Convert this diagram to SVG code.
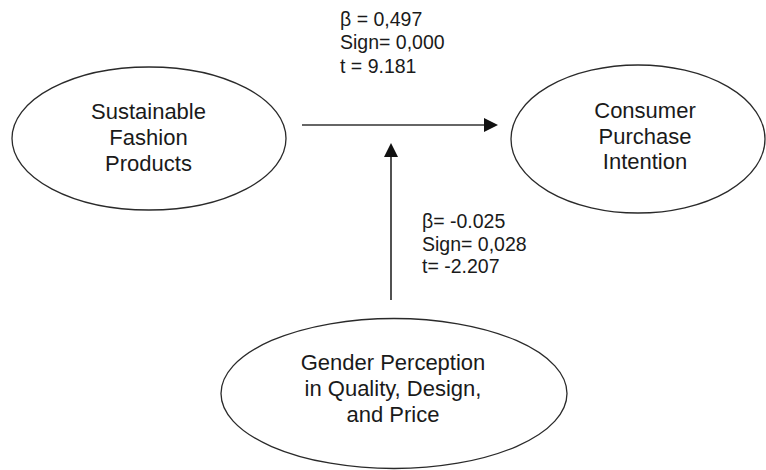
<svg xmlns="http://www.w3.org/2000/svg" width="766" height="470" viewBox="0 0 766 470">
  <defs>
    <style>
      .node ellipse { fill: #ffffff; stroke: #2a2a2a; stroke-width: 1.3; }
      .node text { font-family: "Liberation Sans", Arial, sans-serif; font-size: 22px; fill: #1a1a1a; text-anchor: middle; }
      .conn line { stroke: #333333; stroke-width: 1.7; fill: none; }
      .lbl { font-family: "Liberation Sans", Arial, sans-serif; font-size: 19.5px; fill: #1a1a1a; }
    </style>
    <marker id="arrow" markerUnits="userSpaceOnUse" markerWidth="15" markerHeight="15" refX="11" refY="7" orient="auto">
      <path d="M0,0 L14,7 L0,14 z" fill="#111111"/>
    </marker>
  </defs>
  <rect width="766" height="470" fill="#ffffff"/>

  <g id="sustainable-fashion-products" class="node">
    <ellipse cx="149" cy="138.5" rx="137" ry="71.5"/>
    <text x="148.5" y="119">Sustainable</text>
    <text x="148.5" y="145">Fashion</text>
    <text x="148.5" y="171">Products</text>
  </g>

  <g id="consumer-purchase-intention" class="node">
    <ellipse cx="638" cy="139" rx="127" ry="74"/>
    <text x="645" y="118">Consumer</text>
    <text x="645" y="143.5">Purchase</text>
    <text x="645" y="168.5">Intention</text>
  </g>

  <g id="gender-perception" class="node">
    <ellipse cx="394" cy="393.5" rx="173" ry="75"/>
    <text x="393" y="370">Gender Perception</text>
    <text x="393" y="395.5">in Quality, Design,</text>
    <text x="393" y="421.5">and Price</text>
  </g>

  <g id="connectors" class="conn">
    <line x1="302" y1="125" x2="495" y2="125" marker-end="url(#arrow)"/>
    <line x1="391" y1="300" x2="391" y2="146" marker-end="url(#arrow)"/>
  </g>

  <g id="labels">
    <text class="lbl" x="340" y="26">β = 0,497</text>
    <text class="lbl" x="340" y="48.5">Sign= 0,000</text>
    <text class="lbl" x="340" y="72.5">t = 9.181</text>
    <text class="lbl" x="422" y="228">β= -0.025</text>
    <text class="lbl" x="422" y="250.5">Sign= 0,028</text>
    <text class="lbl" x="422" y="273">t= -2.207</text>
  </g>
</svg>
